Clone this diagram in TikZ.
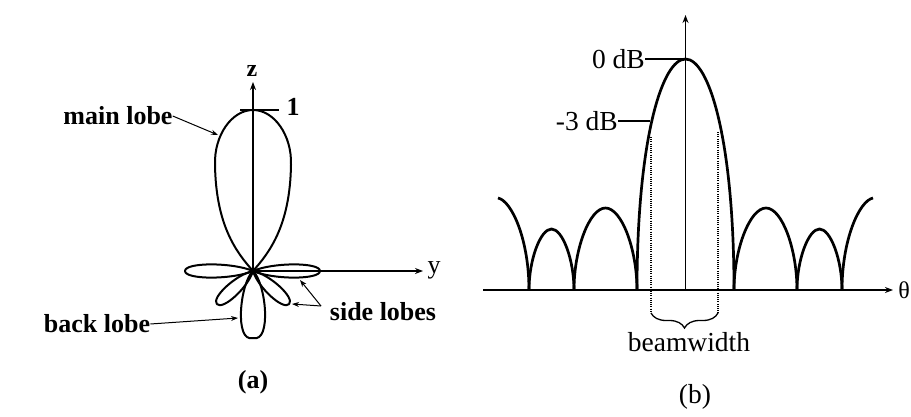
\documentclass[tikz,border=0pt]{standalone}
\usepackage{fontspec}
\setmainfont{Liberation Serif}
\usetikzlibrary{arrows.meta,decorations.pathreplacing}
\begin{document}
\begin{tikzpicture}[x=1pt,y=-1pt,
  lobe/.style={line width=2pt, line join=round},
  axa/.style={line width=1.3pt},
  pointer/.style={line width=1pt, -{Stealth[length=7pt,width=5pt]}},
  axtip/.style={-{Stealth[length=8pt,width=6pt]}},
  curve/.style={line width=2.7pt, line join=round},
  axb/.style={line width=1.7pt},
  dotline/.style={line width=1.2pt, dash pattern=on 1pt off 1.2pt},
  lbla/.style={font=\fontsize{26}{30}\selectfont\bfseries, inner sep=0pt},
  lblb/.style={font=\fontsize{27.5}{32}\selectfont, inner sep=0pt}]
\path[use as bounding box, fill=white] (0,0) rectangle (911,417);

% ---------------- panel (a) ----------------
\coordinate (O) at (253,271);
\coordinate (ztip) at (253,82);
\coordinate (ytip) at (423,271);
\coordinate (tickL) at (240,110);
\coordinate (tickR) at (279,110);

% main lobe
\draw[lobe] (O) .. controls (236,252) and (216,225) .. (215,165)
  .. controls (214,135) and (232,110) .. (253,110)
  .. controls (274,110) and (292,135) .. (291,165)
  .. controls (290,225) and (270,252) .. (O);
% side lobes
\foreach \pang/\plen in {0/67, 180/68, -42.5/49, -137.5/49} {
  \begin{scope}[shift={(O)}, rotate=\pang]
    \draw[lobe] (0,0) .. controls (0.3*\plen,8.8) and (\plen,8.8) .. (\plen,0)
      .. controls (\plen,-8.8) and (0.3*\plen,-8.8) .. (0,0);
  \end{scope}
}
% back lobe
\begin{scope}[shift={(O)}, rotate=-90]
  \draw[lobe] (0,0) .. controls (12,13) and (72,19) .. (67,0)
    .. controls (72,-19) and (12,-13) .. (0,0);
\end{scope}

% axes
\draw[axa, axtip] (O) -- (ztip);
\draw[axa, axtip] (O) -- (ytip);
\draw[axa] (tickL) -- (tickR);

% labels
\node[lbla, font=\fontsize{24}{28}\selectfont\bfseries] (zlbl) at (252,71) {z};
\node[lbla] (onelbl) at (293,107) {1};
\node[lbla, font=\fontsize{26}{30}\selectfont] (ylbl) at (434,270) {y};
\node[lbla] (mainlbl) at (118,116) {main lobe};
\node[lbla] (backlbl) at (97,324) {back lobe};
\node[lbla] (sidelbl) at (383,312) {side lobes};
\node[lbla] (alabel) at (253,382) {(a)};

\coordinate (mltip) at (218,135);
\coordinate (bltip) at (238,318);
\coordinate (sltail) at (321,306);
\coordinate (sltip1) at (300,280);
\coordinate (sltip2) at (292,304);
\draw[pointer] (mainlbl.east) -- (mltip);
\draw[pointer] (backlbl.east) -- (bltip);
\draw[pointer] (sltail) -- (sltip1);
\draw[pointer] (sltail) -- (sltip2);

% ---------------- panel (b) ----------------
\coordinate (thL) at (483,290);
\coordinate (thR) at (893,290);
\coordinate (vbot) at (685.5,290);
\coordinate (vtop) at (685.5,15);
\coordinate (peak) at (685.5,59);
\coordinate (m3pt) at (650,121);
\coordinate (dl1) at (651,137);
\coordinate (dl2) at (651,313);
\coordinate (dr1) at (718,132);
\coordinate (dr2) at (718,313);

\draw[axb, axtip] (thL) -- (thR);
\draw[axb, axtip] (vbot) -- (vtop);

% pattern curves
\draw[curve] (498,198) .. controls (512,201) and (529,240) .. (529,290);
\draw[curve] (529,290) .. controls (529,259.5) and (540.5,229) .. (551.5,229)
  .. controls (562.5,229) and (574,259.5) .. (574,290);
\draw[curve] (574,290) .. controls (574,249) and (589.5,208) .. (605.5,208)
  .. controls (621.5,208) and (637,249) .. (637,290);
\draw[curve] (637,290) .. controls (637,140) and (662,59) .. (peak)
  .. controls (709,59) and (734,140) .. (734,290);
\draw[curve] (734,290) .. controls (734,249) and (750,208) .. (766,208)
  .. controls (782,208) and (797,249) .. (797,290);
\draw[curve] (797,290) .. controls (797,259.5) and (808.5,229) .. (819.5,229)
  .. controls (830.5,229) and (842,259.5) .. (842,290);
\draw[curve] (842,290) .. controls (842,240) and (859,201) .. (873,198);

% dotted beamwidth lines and brace
\draw[dotline] (dl1) -- (dl2);
\draw[dotline] (dr1) -- (dr2);
\draw[line width=1.3pt, decorate, decoration={brace, amplitude=15pt}] (dr2) -- (dl2);

% labels
\node[lblb, anchor=east] (zerodb) at (645,59) {0 dB};
\node[lblb, anchor=east] (m3db) at (618,121) {-3 dB};
\draw[axb] (zerodb.east) -- (peak);
\draw[axb] (m3db.east) -- (m3pt);
\node[lblb, anchor=east, font=\fontsize{24}{28}\selectfont] (thetalbl) at (910,290) {θ};
\node[lblb] (bwlbl) at (689,342) {beamwidth};
\node[lblb] (blabel) at (695,397) {(b)};
\end{tikzpicture}
\end{document}
